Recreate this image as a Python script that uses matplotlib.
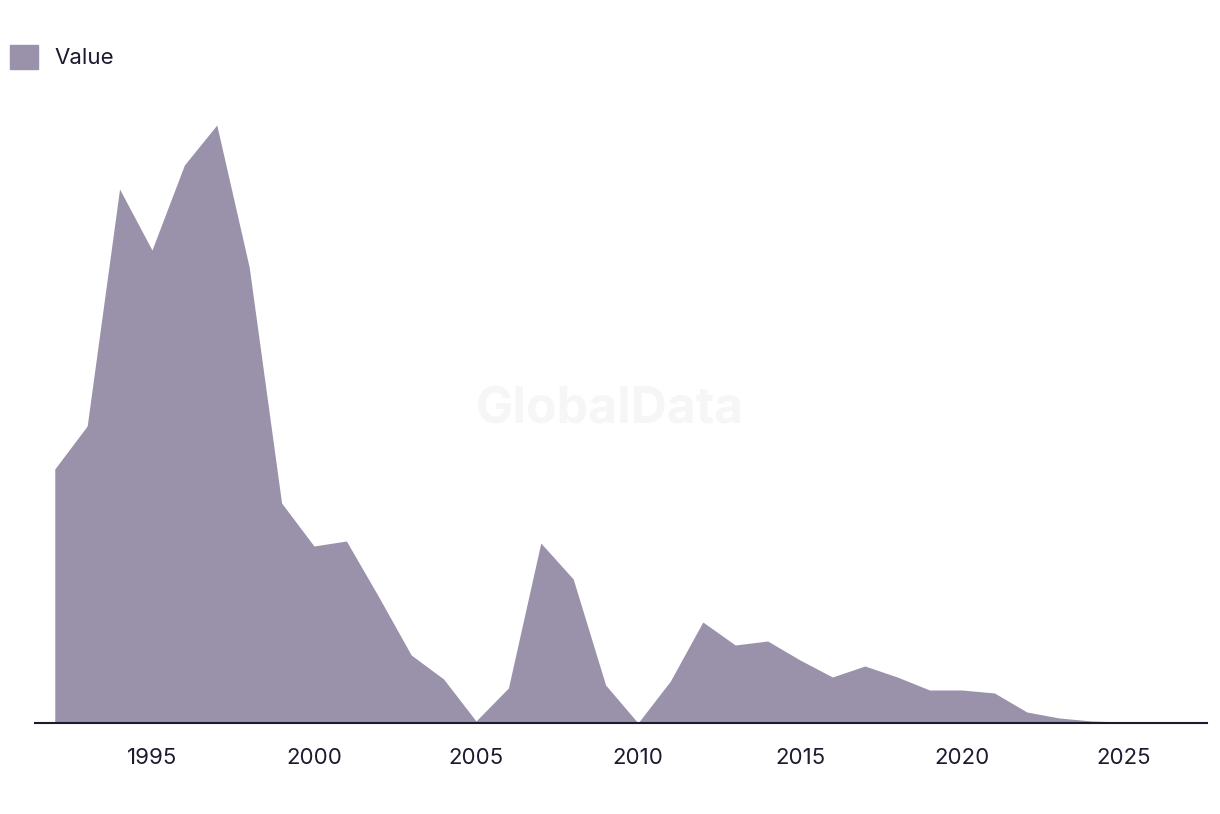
import matplotlib.pyplot as plt
from matplotlib.patches import Patch

plt.rcParams['font.family'] = ['Inter', 'DejaVu Sans']

years = list(range(1992, 2027))
values = [254, 297, 534, 473, 558, 598, 456, 220, 177, 182,
          126, 68, 44, 2, 35, 180, 144, 38, 0, 42,
          101, 78, 82, 63, 46, 57, 46, 33, 33, 30,
          11, 5, 2, 1, 0]
tick_years = [1995, 2000, 2005, 2010, 2015, 2020, 2025]

fill_color = '#9a91aa'
text_color = '#1b1a2e'

fig = plt.figure(figsize=(12.2, 8.14), dpi=100)
ax = fig.add_axes([35 / 1220, 1 - 723 / 814, (1207 - 35) / 1220, 623 / 814])

ax.fill_between(years, values, 0, color=fill_color, linewidth=0)
ax.set_xlim(1991.39, 2027.56)
ax.set_ylim(0, 623)

ax.set_xticks(tick_years)
ax.set_xticklabels([str(y) for y in tick_years], fontsize=16, color=text_color)
ax.tick_params(axis='x', length=0, pad=18)
ax.set_yticks([])
for side in ['top', 'right', 'left']:
    ax.spines[side].set_visible(False)
ax.spines['bottom'].set_color(text_color)
ax.spines['bottom'].set_linewidth(1.5)

fig.text(0.5, 1 - 410 / 814, 'GlobalData', fontsize=36, fontweight='bold',
         color='#f6f6f6', ha='center', va='center', zorder=0)

fig.legend(handles=[Patch(color=fill_color, label='Value')], loc='upper left',
           bbox_to_anchor=(-0.008, 0.969), frameon=False, fontsize=16,
           handlelength=1.25, handleheight=1.25, handletextpad=0.75,
           labelcolor=text_color)

fig.savefig('out.png', dpi=100)
